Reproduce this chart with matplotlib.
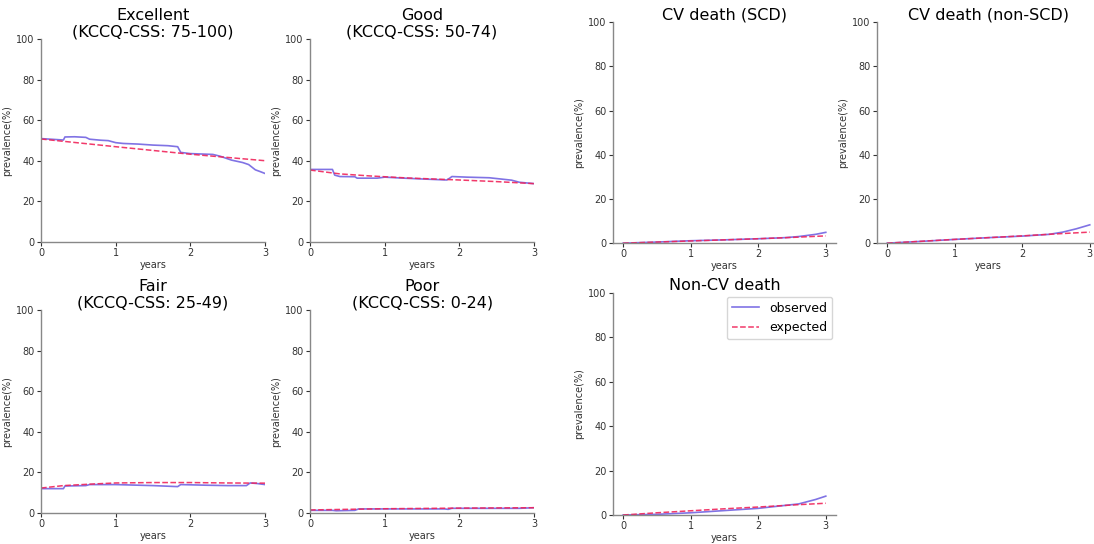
"""Observed vs expected prevalence of KCCQ-CSS states and death categories over 3 years."""

import matplotlib
matplotlib.use("Agg")
from matplotlib import pyplot as plt

OBS_COLOR = "#6a5ae0"
EXP_COLOR = "#f0245a"
SPINE_COLOR = "#888888"

# ---- KCCQ-CSS health states (step-like observed, smooth expected) ----
excellent_obs_t = [0, 0.3, 0.32, 0.45, 0.6, 0.65, 0.8, 0.9, 1.0, 1.1, 1.3, 1.5, 1.7, 1.83, 1.87,
                   2.0, 2.3, 2.4, 2.55, 2.7, 2.78, 2.87, 2.93, 3.0]
excellent_obs = [51.0, 50.3, 51.8, 51.9, 51.6, 50.7, 50.2, 50.0, 49.0, 48.6, 48.3, 47.8, 47.5, 47.0, 44.2,
                 43.6, 43.2, 42.3, 40.4, 39.2, 38.2, 35.6, 34.8, 33.8]
excellent_exp_t = [0, 1, 2, 3]
excellent_exp = [50.8, 47.0, 43.3, 40.1]

good_obs_t = [0, 0.3, 0.33, 0.4, 0.6, 0.63, 0.9, 1.0, 1.2, 1.5, 1.83, 1.87, 1.9, 2.1, 2.4, 2.5, 2.7,
              2.8, 3.0]
good_obs = [35.8, 35.8, 33.0, 32.3, 32.2, 31.5, 31.5, 32.0, 31.6, 31.1, 30.6, 31.5, 32.3, 32.0, 31.7,
            31.3, 30.5, 29.5, 28.8]
good_exp_t = [0, 0.4, 0.8, 1.3, 2.0, 2.5, 3.0]
good_exp = [35.5, 33.6, 32.6, 31.6, 30.6, 29.8, 28.8]

fair_obs_t = [0, 0.3, 0.32, 0.6, 0.65, 1.0, 1.2, 1.5, 1.83, 1.87, 2.2, 2.5, 2.75, 2.8, 2.9, 3.0]
fair_obs = [12.0, 12.0, 13.3, 13.5, 14.0, 14.0, 13.8, 13.5, 13.0, 14.0, 13.7, 13.5, 13.5, 14.8, 14.5,
            14.0]
fair_exp_t = [0, 0.3, 0.7, 1.0, 1.5, 2.0, 2.5, 3.0]
fair_exp = [12.3, 13.5, 14.3, 14.8, 15.0, 15.0, 14.8, 14.7]

poor_obs_t = [0, 0.3, 0.35, 0.6, 0.65, 1.8, 1.85, 1.9, 2.8, 3.0]
poor_obs = [1.3, 1.3, 1.1, 1.3, 2.0, 2.0, 1.8, 2.3, 2.3, 2.6]
poor_exp_t = [0, 0.5, 1.0, 2.0, 3.0]
poor_exp = [1.5, 1.8, 2.1, 2.4, 2.6]

# ---- death categories (cumulative, smooth) ----
scd_obs_t = [0, 0.5, 1.0, 1.5, 2.0, 2.4, 2.6, 2.85, 3.0]
scd_obs = [0.0, 0.5, 1.1, 1.5, 2.0, 2.5, 3.0, 4.0, 4.9]
scd_exp_t = [0, 1.0, 2.0, 2.5, 3.0]
scd_exp = [0.0, 1.0, 2.0, 2.6, 3.3]

nonscd_obs_t = [0, 0.5, 1.0, 1.5, 2.0, 2.4, 2.6, 2.8, 3.0]
nonscd_obs = [0.0, 0.8, 1.7, 2.5, 3.2, 4.0, 5.0, 6.5, 8.3]
nonscd_exp_t = [0, 1.0, 2.0, 2.5, 3.0]
nonscd_exp = [0.0, 1.7, 3.3, 4.2, 5.0]

noncv_obs_t = [0, 0.5, 1.0, 1.5, 2.0, 2.3, 2.6, 2.85, 3.0]
noncv_obs = [0.0, 0.3, 1.0, 2.0, 3.0, 4.0, 5.0, 7.0, 8.5]
noncv_exp_t = [0, 0.5, 1.0, 1.5, 2.0, 2.5, 3.0]
noncv_exp = [0.0, 1.0, 1.9, 2.8, 3.6, 4.5, 5.3]

# (title, obs_t, obs, exp_t, exp, [left, bottom, width, height], clamp x to [0,3])
PANELS = [
    ("Excellent\n(KCCQ-CSS: 75-100)", excellent_obs_t, excellent_obs, excellent_exp_t, excellent_exp,
     [0.0375, 0.555, 0.2048, 0.373], True),
    ("Good\n(KCCQ-CSS: 50-74)", good_obs_t, good_obs, good_exp_t, good_exp,
     [0.2834, 0.555, 0.2048, 0.373], True),
    ("Fair\n(KCCQ-CSS: 25-49)", fair_obs_t, fair_obs, fair_exp_t, fair_exp,
     [0.0375, 0.057, 0.2048, 0.373], True),
    ("Poor\n(KCCQ-CSS: 0-24)", poor_obs_t, poor_obs, poor_exp_t, poor_exp,
     [0.2834, 0.057, 0.2048, 0.373], True),
    ("CV death (SCD)", scd_obs_t, scd_obs, scd_exp_t, scd_exp,
     [0.5603, 0.553, 0.2038, 0.406], False),
    ("CV death (non-SCD)", nonscd_obs_t, nonscd_obs, nonscd_exp_t, nonscd_exp,
     [0.8016, 0.553, 0.2038, 0.406], False),
    ("Non-CV death", noncv_obs_t, noncv_obs, noncv_exp_t, noncv_exp,
     [0.5603, 0.0533, 0.2038, 0.408], False),
]


def style_axis(ax, tight_x):
    for side in ("top", "right"):
        ax.spines[side].set_visible(False)
    for side in ("left", "bottom"):
        ax.spines[side].set_color(SPINE_COLOR)
        ax.spines[side].set_linewidth(1.0)
    ax.tick_params(axis="both", labelsize=7, colors="#333333", length=3, pad=1.5)
    ax.set_ylim(0, 100)
    ax.set_yticks([0, 20, 40, 60, 80, 100])
    if tight_x:
        ax.set_xlim(0, 3)
    else:
        ax.set_xlim(-0.15, 3.15)
    ax.set_xticks([0, 1, 2, 3])
    ax.set_xlabel("years", fontsize=7, color="#333333", labelpad=1)
    ax.set_ylabel("prevalence(%)", fontsize=7, color="#333333", labelpad=3)


fig = plt.figure(figsize=(10.94, 5.44), dpi=100)
for title, ot, ov, et, ev, rect, tight_x in PANELS:
    ax = fig.add_axes(rect)
    ax.plot(ot, ov, color=OBS_COLOR, linewidth=1.2, alpha=0.85, label="observed")
    ax.plot(et, ev, color=EXP_COLOR, linewidth=1.1, linestyle="--", alpha=0.9, label="expected")
    style_axis(ax, tight_x)
    ax.set_title(title, fontsize=11.5, linespacing=1.1, pad=2)
    if title == "Non-CV death":
        ax.legend(loc="upper right", fontsize=9, handlelength=2.2, borderaxespad=0.3)

fig.savefig("out.png", dpi=100)
